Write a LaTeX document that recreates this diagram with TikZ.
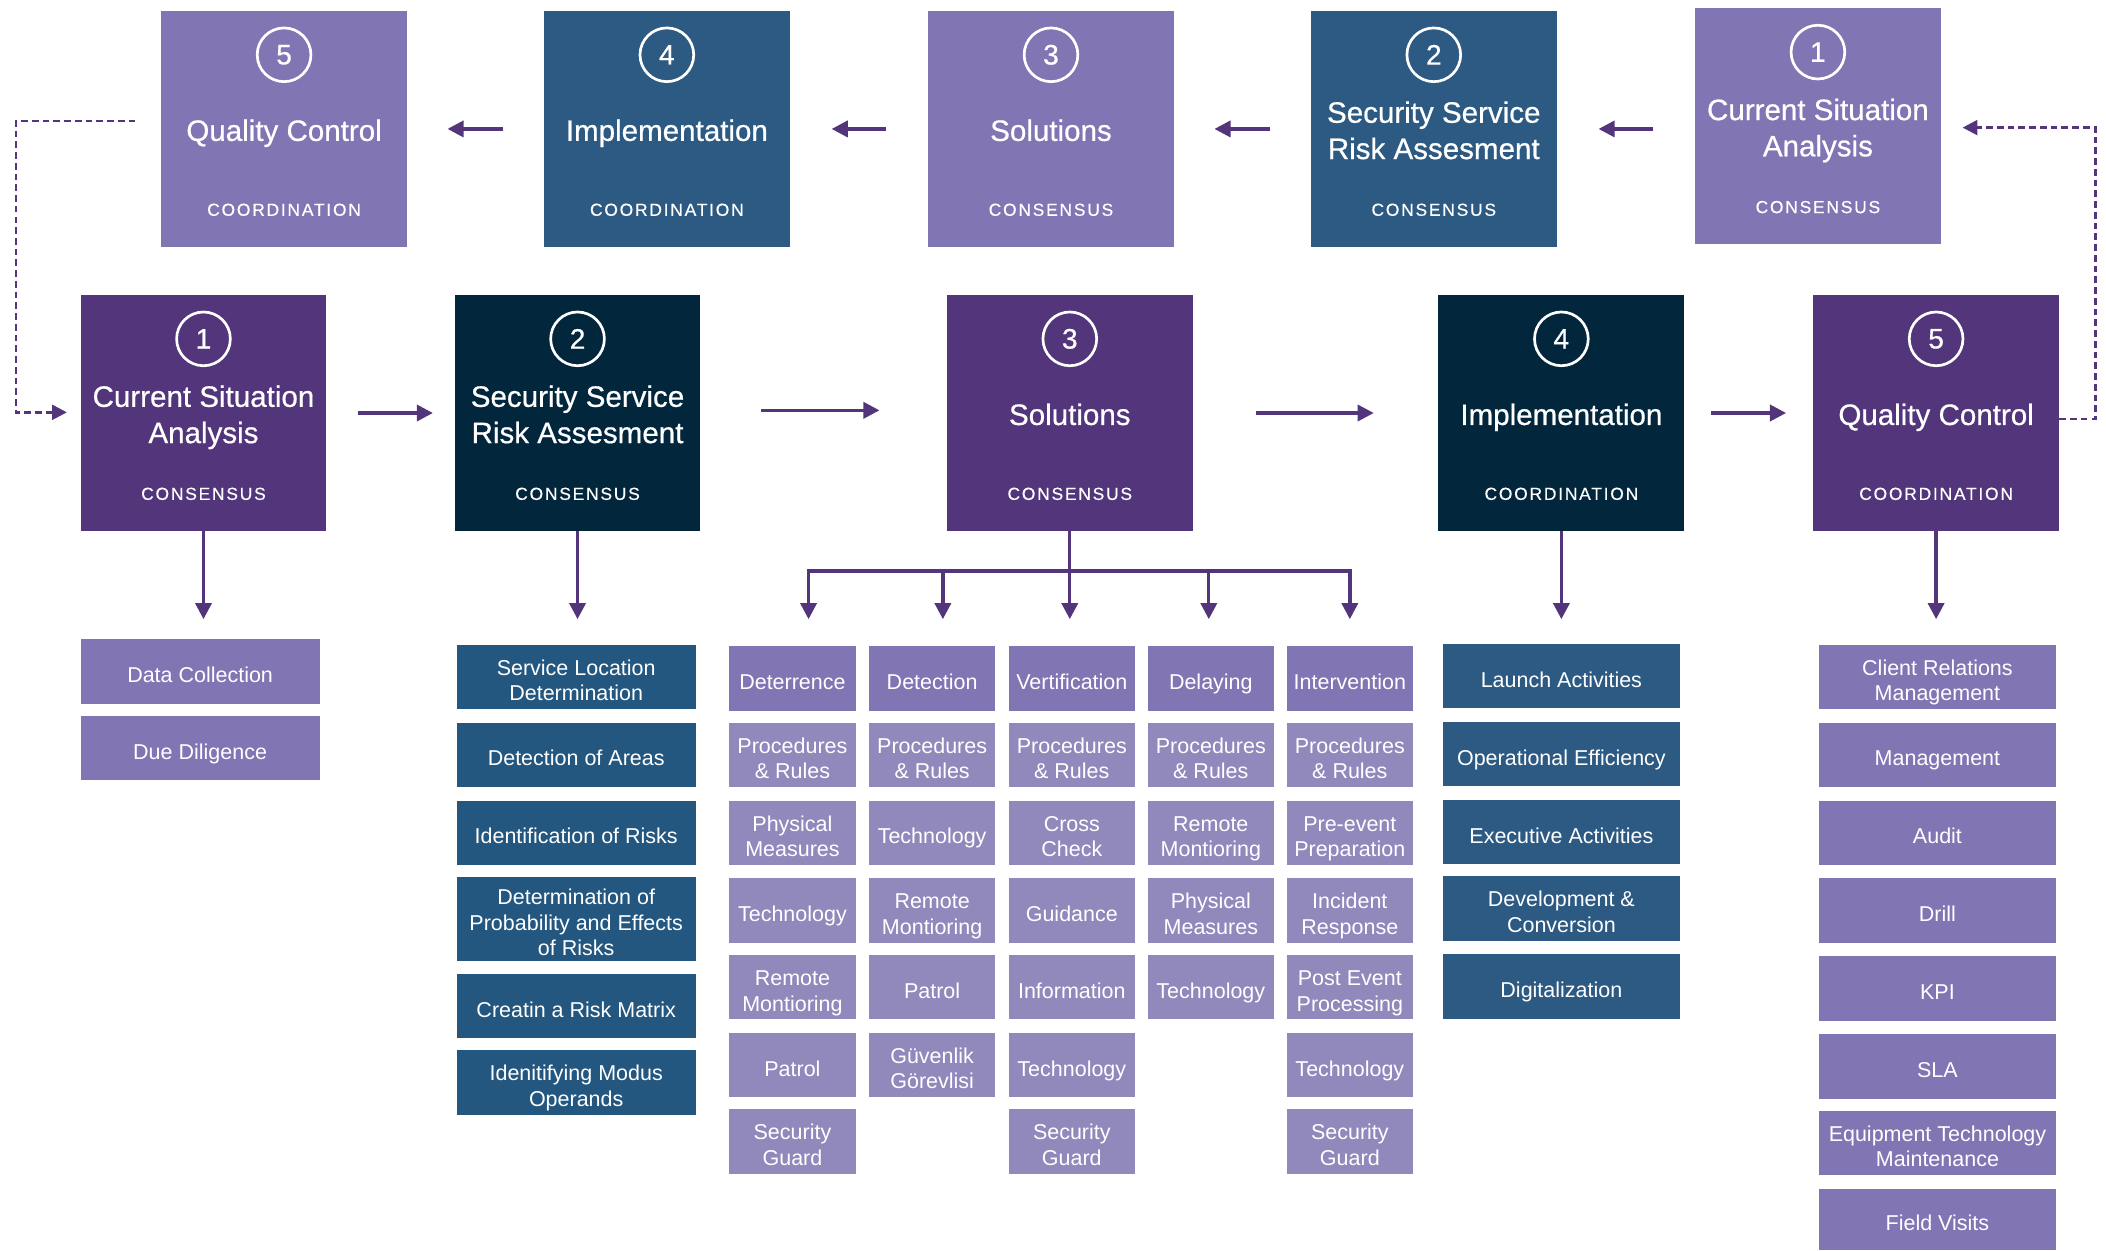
\documentclass[tikz,border=0pt]{standalone}
\usepackage{fontspec}
\setmainfont{Liberation Sans}
\newfontfamily\tagfont[LetterSpace=10,FakeBold=0.4]{Liberation Sans}
\newfontfamily\headfont[FakeBold=0.6]{Liberation Sans}
\usetikzlibrary{arrows.meta,calc}

\definecolor{lav}{HTML}{8175B3}
\definecolor{lavlt}{HTML}{9188BC}
\definecolor{steel}{HTML}{2C5A82}
\definecolor{steelitem}{HTML}{23577F}
\definecolor{plum}{HTML}{52357A}
\definecolor{navy}{HTML}{02263C}

% fixed first-line height and last-line depth, so all labels sit alike
\newcommand\cellfmt[1]{\rule{0pt}{20.5pt}#1\rule[-4pt]{0pt}{4pt}}
\newcommand\titlefmt[1]{\rule{0pt}{23.8pt}#1\rule[-6pt]{0pt}{6pt}}

\tikzset{
  stagebox/.style={rectangle, inner sep=0pt, minimum width=183pt, minimum height=176pt},
  numring/.style={circle, draw=white, line width=2pt, minimum size=40pt, inner sep=0pt,
    text=white, font=\headfont\fontsize{21}{21}\selectfont},
  stagetitle/.style={text=white, align=center, inner sep=0pt,
    font=\headfont\fontsize{22}{27}\selectfont},
  stagetag/.style={text=white, inner sep=0pt, font=\tagfont\fontsize{13}{15}\selectfont},
  cellbox/.style={rectangle, inner sep=0pt, minimum height=48pt, text=white, align=center,
    font=\fontsize{16}{19}\selectfont},
  arr/.style={draw=plum, line width=2.5pt, -{Triangle[length=12pt,width=12pt]}},
  link/.style={draw=plum, line width=2.5pt},
  dasharr/.style={draw=plum, line width=2pt, dash pattern=on 5pt off 3pt,
    -{Triangle[length=11pt,width=11pt]}}
}

% stage card: name, x, y, fill, number, title, tag
\newcommand\stagecard[7]{%
  \node[stagebox, fill=#4] (#1) at (#2,#3) {};
  \node[numring] (#1n) at ([yshift=-33pt]#1.north) {#5};
  \node[stagetitle] (#1t) at (#1.center) {\titlefmt{#6}};
  \node[stagetag] (#1s) at ([yshift=28pt]#1.south) {#7};
}
% sub-item cell: name, x, y, fill, width, text
\newcommand\cell[6]{\node[cellbox, fill=#4, minimum width=#5pt] (#1) at (#2,#3) {\cellfmt{#6}};}

\begin{document}
\begin{tikzpicture}[x=1pt,y=-1pt]
\useasboundingbox (0,0) rectangle (1568,931);

% upper row (feedback order)
\stagecard{T5}{211.5}{96}{lav}{5}{Quality Control}{COORDINATION}
\stagecard{T4}{496.5}{96}{steel}{4}{Implementation}{COORDINATION}
\stagecard{T3}{782.5}{96}{lav}{3}{Solutions}{CONSENSUS}
\stagecard{T2}{1067.5}{96}{steel}{2}{Security Service\\Risk Assesment}{CONSENSUS}
\stagecard{T1}{1353.5}{94}{lav}{1}{Current Situation\\Analysis}{CONSENSUS}

% main row
\stagecard{B1}{151.5}{307.5}{plum}{1}{Current Situation\\Analysis}{CONSENSUS}
\stagecard{B2}{430}{307.5}{navy}{2}{Security Service\\Risk Assesment}{CONSENSUS}
\stagecard{B3}{796.5}{307.5}{plum}{3}{Solutions}{CONSENSUS}
\stagecard{B4}{1162.5}{307.5}{navy}{4}{Implementation}{COORDINATION}
\stagecard{B5}{1441.5}{307.5}{plum}{5}{Quality Control}{COORDINATION}

% arrows of the upper row
\draw[arr] ($(T4.west)+(-30,0)$) -- ($(T5.east)+(30,0)$);
\draw[arr] ($(T3.west)+(-31,0)$) -- ($(T4.east)+(31,0)$);
\draw[arr] ($(T2.west)+(-30,0)$) -- ($(T3.east)+(30,0)$);
\draw[arr] ($(T1.west |- T2.east)+(-31,0)$) -- ($(T2.east)+(31,0)$);

% arrows of the main row
\draw[arr] ($(B1.east)+(23,0)$) -- ($(B2.west)+(-16,0)$);
\draw[arr] ($(B2.east)+(45,-2)$) -- ($(B3.west)+(-50,-2)$);
\draw[arr] ($(B3.east)+(47,0)$) -- ($(B4.west)+(-48,0)$);
\draw[arr] ($(B4.east)+(20,0)$) -- ($(B5.west)+(-20,0)$);

% feedback loops
\coordinate (lu) at (12,90);
\coordinate (ld) at (12,307);
\draw[dasharr] ($(T5.west |- lu)+(-19,0)$) -- (lu) -- (ld) -- ($(B1.west |- ld)+(-10,0)$);
\coordinate (ru) at (1560,95);
\coordinate (rd) at (1560,312);
\draw[dasharr] (B5.east |- rd) -- (rd) -- (ru) -- ($(T1.east |- ru)+(16,0)$);

% drop arrows
\coordinate (tipy) at (0,461);
\draw[arr] (B1.south) -- (B1.south |- tipy);
\draw[arr] (B2.south) -- (B2.south |- tipy);
\draw[arr] (B4.south) -- (B4.south |- tipy);
\draw[arr] (B5.south) -- (B5.south |- tipy);

% branching under Solutions
\coordinate (hub) at (796.5,425);
\coordinate (s1) at (602,461);
\coordinate (s2) at (702,461);
\coordinate (s3) at (796.5,461);
\coordinate (s4) at (900,461);
\coordinate (s5) at (1005,461);
\draw[link] (B3.south) -- (hub);
\foreach \t in {s1,s2,s3,s4,s5} \draw[arr] (hub) -| (\t);

% items of stage 1
\cell{dc}{149}{500}{lav}{178}{Data Collection}
\cell{dd}{149}{557}{lav}{178}{Due Diligence}

% items of stage 2
\cell{sl}{429}{504}{steelitem}{178}{Service Location\\Determination}
\cell{da}{429}{562}{steelitem}{178}{Detection of Areas}
\cell{ir}{429}{620}{steelitem}{178}{Identification of Risks}
\node[cellbox, fill=steelitem, minimum width=178pt, minimum height=61pt] (dp) at (429,684.5)
  {\cellfmt{Determination of\\Probability and Effects\\of Risks}};
\cell{rx}{429}{749}{steelitem}{178}{Creatin a Risk Matrix}
\cell{mo}{429}{806}{steelitem}{178}{Idenitifying Modus\\Operands}

% items of stage 3: column heads
\cell{h1}{590}{505}{lav}{94}{Deterrence}
\cell{h2}{694}{505}{lav}{94}{Detection}
\cell{h3}{798}{505}{lav}{94}{Vertification}
\cell{h4}{901.5}{505}{lav}{94}{Delaying}
\cell{h5}{1005}{505}{lav}{94}{Intervention}

% Deterrence
\cell{a1}{590}{562}{lavlt}{94}{Procedures\\\& Rules}
\cell{a2}{590}{620}{lavlt}{94}{Physical\\Measures}
\cell{a3}{590}{678}{lavlt}{94}{Technology}
\cell{a4}{590}{735}{lavlt}{94}{Remote\\Montioring}
\cell{a5}{590}{793}{lavlt}{94}{Patrol}
\cell{a6}{590}{850}{lavlt}{94}{Security\\Guard}
% Detection
\cell{b1}{694}{562}{lavlt}{94}{Procedures\\\& Rules}
\cell{b2}{694}{620}{lavlt}{94}{Technology}
\cell{b3}{694}{678}{lavlt}{94}{Remote\\Montioring}
\cell{b4}{694}{735}{lavlt}{94}{Patrol}
\cell{b5}{694}{793}{lavlt}{94}{Güvenlik\\Görevlisi}
% Vertification
\cell{v1}{798}{562}{lavlt}{94}{Procedures\\\& Rules}
\cell{v2}{798}{620}{lavlt}{94}{Cross\\Check}
\cell{v3}{798}{678}{lavlt}{94}{Guidance}
\cell{v4}{798}{735}{lavlt}{94}{Information}
\cell{v5}{798}{793}{lavlt}{94}{Technology}
\cell{v6}{798}{850}{lavlt}{94}{Security\\Guard}
% Delaying
\cell{y1}{901.5}{562}{lavlt}{94}{Procedures\\\& Rules}
\cell{y2}{901.5}{620}{lavlt}{94}{Remote\\Montioring}
\cell{y3}{901.5}{678}{lavlt}{94}{Physical\\Measures}
\cell{y4}{901.5}{735}{lavlt}{94}{Technology}
% Intervention
\cell{n1}{1005}{562}{lavlt}{94}{Procedures\\\& Rules}
\cell{n2}{1005}{620}{lavlt}{94}{Pre-event\\Preparation}
\cell{n3}{1005}{678}{lavlt}{94}{Incident\\Response}
\cell{n4}{1005}{735}{lavlt}{94}{Post Event\\Processing}
\cell{n5}{1005}{793}{lavlt}{94}{Technology}
\cell{n6}{1005}{850}{lavlt}{94}{Security\\Guard}

% items of stage 4
\cell{la}{1162.5}{503.5}{steel}{177}{Launch Activities}
\cell{oe}{1162.5}{561.5}{steel}{177}{Operational Efficiency}
\cell{ea}{1162.5}{619.5}{steel}{177}{Executive Activities}
\cell{dv}{1162.5}{676.5}{steel}{177}{Development \&\\Conversion}
\cell{dg}{1162.5}{734.5}{steel}{177}{Digitalization}

% items of stage 5
\cell{cr}{1442.5}{504}{lav}{177}{Client Relations\\Management}
\cell{mg}{1442.5}{562}{lav}{177}{Management}
\cell{au}{1442.5}{620}{lav}{177}{Audit}
\cell{dr}{1442.5}{678}{lav}{177}{Drill}
\cell{kp}{1442.5}{736}{lav}{177}{KPI}
\cell{sa}{1442.5}{794}{lav}{177}{SLA}
\cell{et}{1442.5}{851}{lav}{177}{Equipment Technology\\Maintenance}
\node[cellbox, fill=lav, minimum width=177pt, minimum height=46pt] (fv) at (1442.5,908) {\cellfmt{Field Visits}};
\end{tikzpicture}
\end{document}
